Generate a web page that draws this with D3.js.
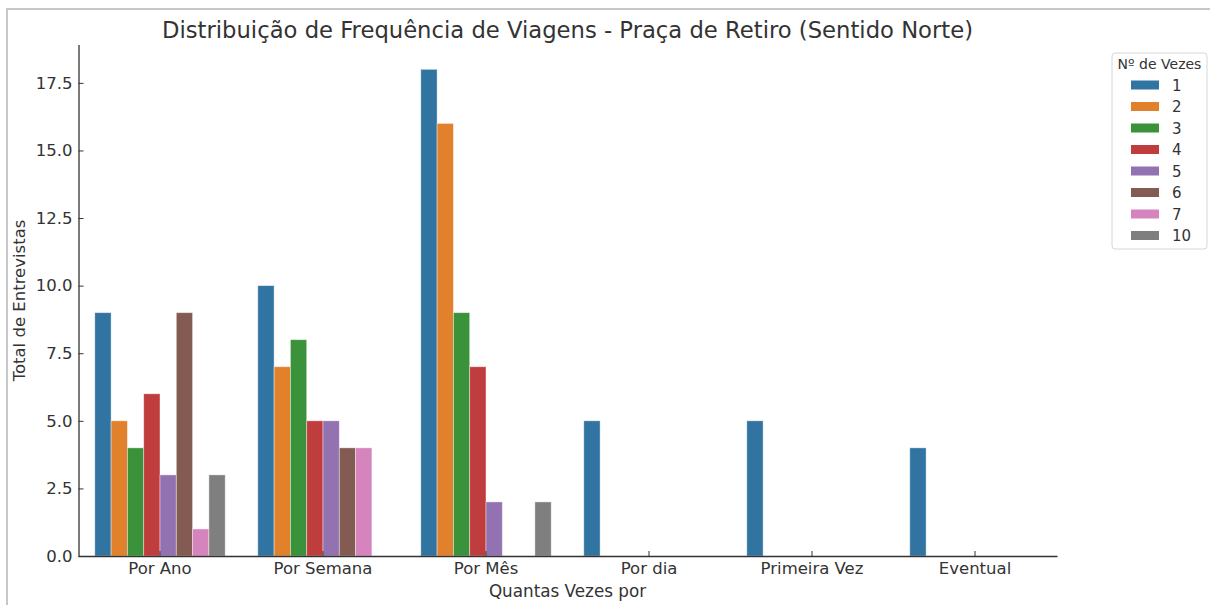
<!DOCTYPE html>
<html>
<head>
    <meta charset="utf-8">
    <script src="https://d3js.org/d3.v7.min.js"></script>
    <style>
        body { margin: 0; background: #fff; }
        text { font-family: "DejaVu Sans", sans-serif; fill: #333; }
    </style>
</head>
<body>
    <svg id="chart"></svg>

    <script>
        // Data
        const categories = ["Por Ano", "Por Semana", "Por Mês", "Por dia", "Primeira Vez", "Eventual"];
        const hueLevels = ["1", "2", "3", "4", "5", "6", "7", "10"];
        const hueColors = ["#3274a1", "#e1812c", "#3a923a", "#c03d3e", "#9372b2", "#845b53", "#d684bd", "#7f7f7f"];
        // one array per hue level, null = no bar for that category
        const vezes1  = [9, 10, 18, 5, 5, 4];
        const vezes2  = [5, 7, 16, null, null, null];
        const vezes3  = [4, 8, 9, null, null, null];
        const vezes4  = [6, 5, 7, null, null, null];
        const vezes5  = [3, 5, 2, null, null, null];
        const vezes6  = [9, 4, null, null, null, null];
        const vezes7  = [1, 4, null, null, null, null];
        const vezes10 = [3, null, 2, null, null, null];
        const series = [vezes1, vezes2, vezes3, vezes4, vezes5, vezes6, vezes7, vezes10];
        const yTicks = [0, 2.5, 5, 7.5, 10, 12.5, 15, 17.5];

        const width = 1210, height = 605;
        const plotLeft = 78.5, plotRight = 1056.5, plotTop = 45, plotBottom = 556;

        const svg = d3.select("#chart").attr("width", width).attr("height", height);

        // light frame of the screenshot
        svg.append("path")
            .attr("d", `M7,${height} L7,9 L${width},9`)
            .attr("fill", "none")
            .attr("stroke", "#c8c8c8")
            .attr("stroke-width", 2);

        const x = d3.scaleBand().domain(categories).range([plotLeft, plotRight]).paddingInner(0.2).paddingOuter(0.1);
        const xHue = d3.scaleBand().domain(hueLevels).range([0, x.bandwidth()]);
        const y = d3.scaleLinear().domain([0, 18.9]).range([plotBottom, plotTop]);

        // bars
        const bars = [];
        series.forEach((vals, i) => {
            vals.forEach((v, j) => {
                if (v !== null) bars.push({ cat: categories[j], hue: hueLevels[i], color: hueColors[i], value: v });
            });
        });

        svg.append("g").selectAll("rect")
            .data(bars)
            .enter()
            .append("rect")
            .attr("x", d => x(d.cat) + xHue(d.hue))
            .attr("width", xHue.bandwidth())
            .attr("y", d => y(d.value))
            .attr("height", d => y(0) - y(d.value))
            .attr("fill", d => d.color)
            .attr("stroke", "#ffffff")
            .attr("stroke-opacity", 0.5)
            .attr("stroke-width", 0.8);

        // axes
        const yAxis = svg.append("g")
            .attr("transform", `translate(${plotLeft},0)`)
            .call(d3.axisLeft(y).tickValues(yTicks).tickFormat(d3.format(".1f")).tickSizeInner(-5).tickSizeOuter(0).tickPadding(6));
        const xAxis = svg.append("g")
            .attr("transform", `translate(0,${plotBottom})`)
            .call(d3.axisBottom(x).tickSizeInner(-5).tickSizeOuter(0).tickPadding(6));

        [xAxis, yAxis].forEach(g => {
            g.select(".domain").attr("stroke", "#333").attr("stroke-width", 1.3);
            g.selectAll(".tick line").attr("stroke", "#333").attr("stroke-width", 1);
            g.selectAll(".tick text").style("font-size", "16.5px").attr("fill", "#333");
        });
        xAxis.select(".domain").attr("d", `M${plotLeft},0.5H${plotRight + 1}`);
        yAxis.select(".domain").attr("d", `M0.5,${plotBottom}V${plotTop}`);

        // titles
        svg.append("text")
            .attr("x", (plotLeft + plotRight) / 2)
            .attr("y", 38)
            .attr("text-anchor", "middle")
            .style("font-size", "22.7px")
            .text("Distribuição de Frequência de Viagens - Praça de Retiro (Sentido Norte)");

        svg.append("text")
            .attr("x", (plotLeft + plotRight) / 2)
            .attr("y", 597)
            .attr("text-anchor", "middle")
            .style("font-size", "16.8px")
            .text("Quantas Vezes por");

        svg.append("text")
            .attr("transform", `translate(25,${(plotTop + plotBottom) / 2}) rotate(-90)`)
            .attr("text-anchor", "middle")
            .style("font-size", "16.5px")
            .text("Total de Entrevistas");

        // legend
        const legend = svg.append("g").attr("transform", "translate(1112,53)");
        legend.append("rect")
            .attr("width", 95).attr("height", 196)
            .attr("rx", 3)
            .attr("fill", "#fff")
            .attr("stroke", "#d6d6d6");
        legend.append("text")
            .attr("x", 47.5).attr("y", 16)
            .attr("text-anchor", "middle")
            .style("font-size", "14px")
            .text("Nº de Vezes");
        const items = legend.selectAll(".item")
            .data(hueLevels)
            .enter()
            .append("g")
            .attr("transform", (d, i) => `translate(0,${32 + i * 21.5})`);
        items.append("rect")
            .attr("x", 19).attr("y", -4.5)
            .attr("width", 28).attr("height", 9)
            .attr("fill", (d, i) => hueColors[i]);
        items.append("text")
            .attr("x", 60).attr("y", 5.5)
            .style("font-size", "15px")
            .text(d => d);
    </script>
</body>
</html>
